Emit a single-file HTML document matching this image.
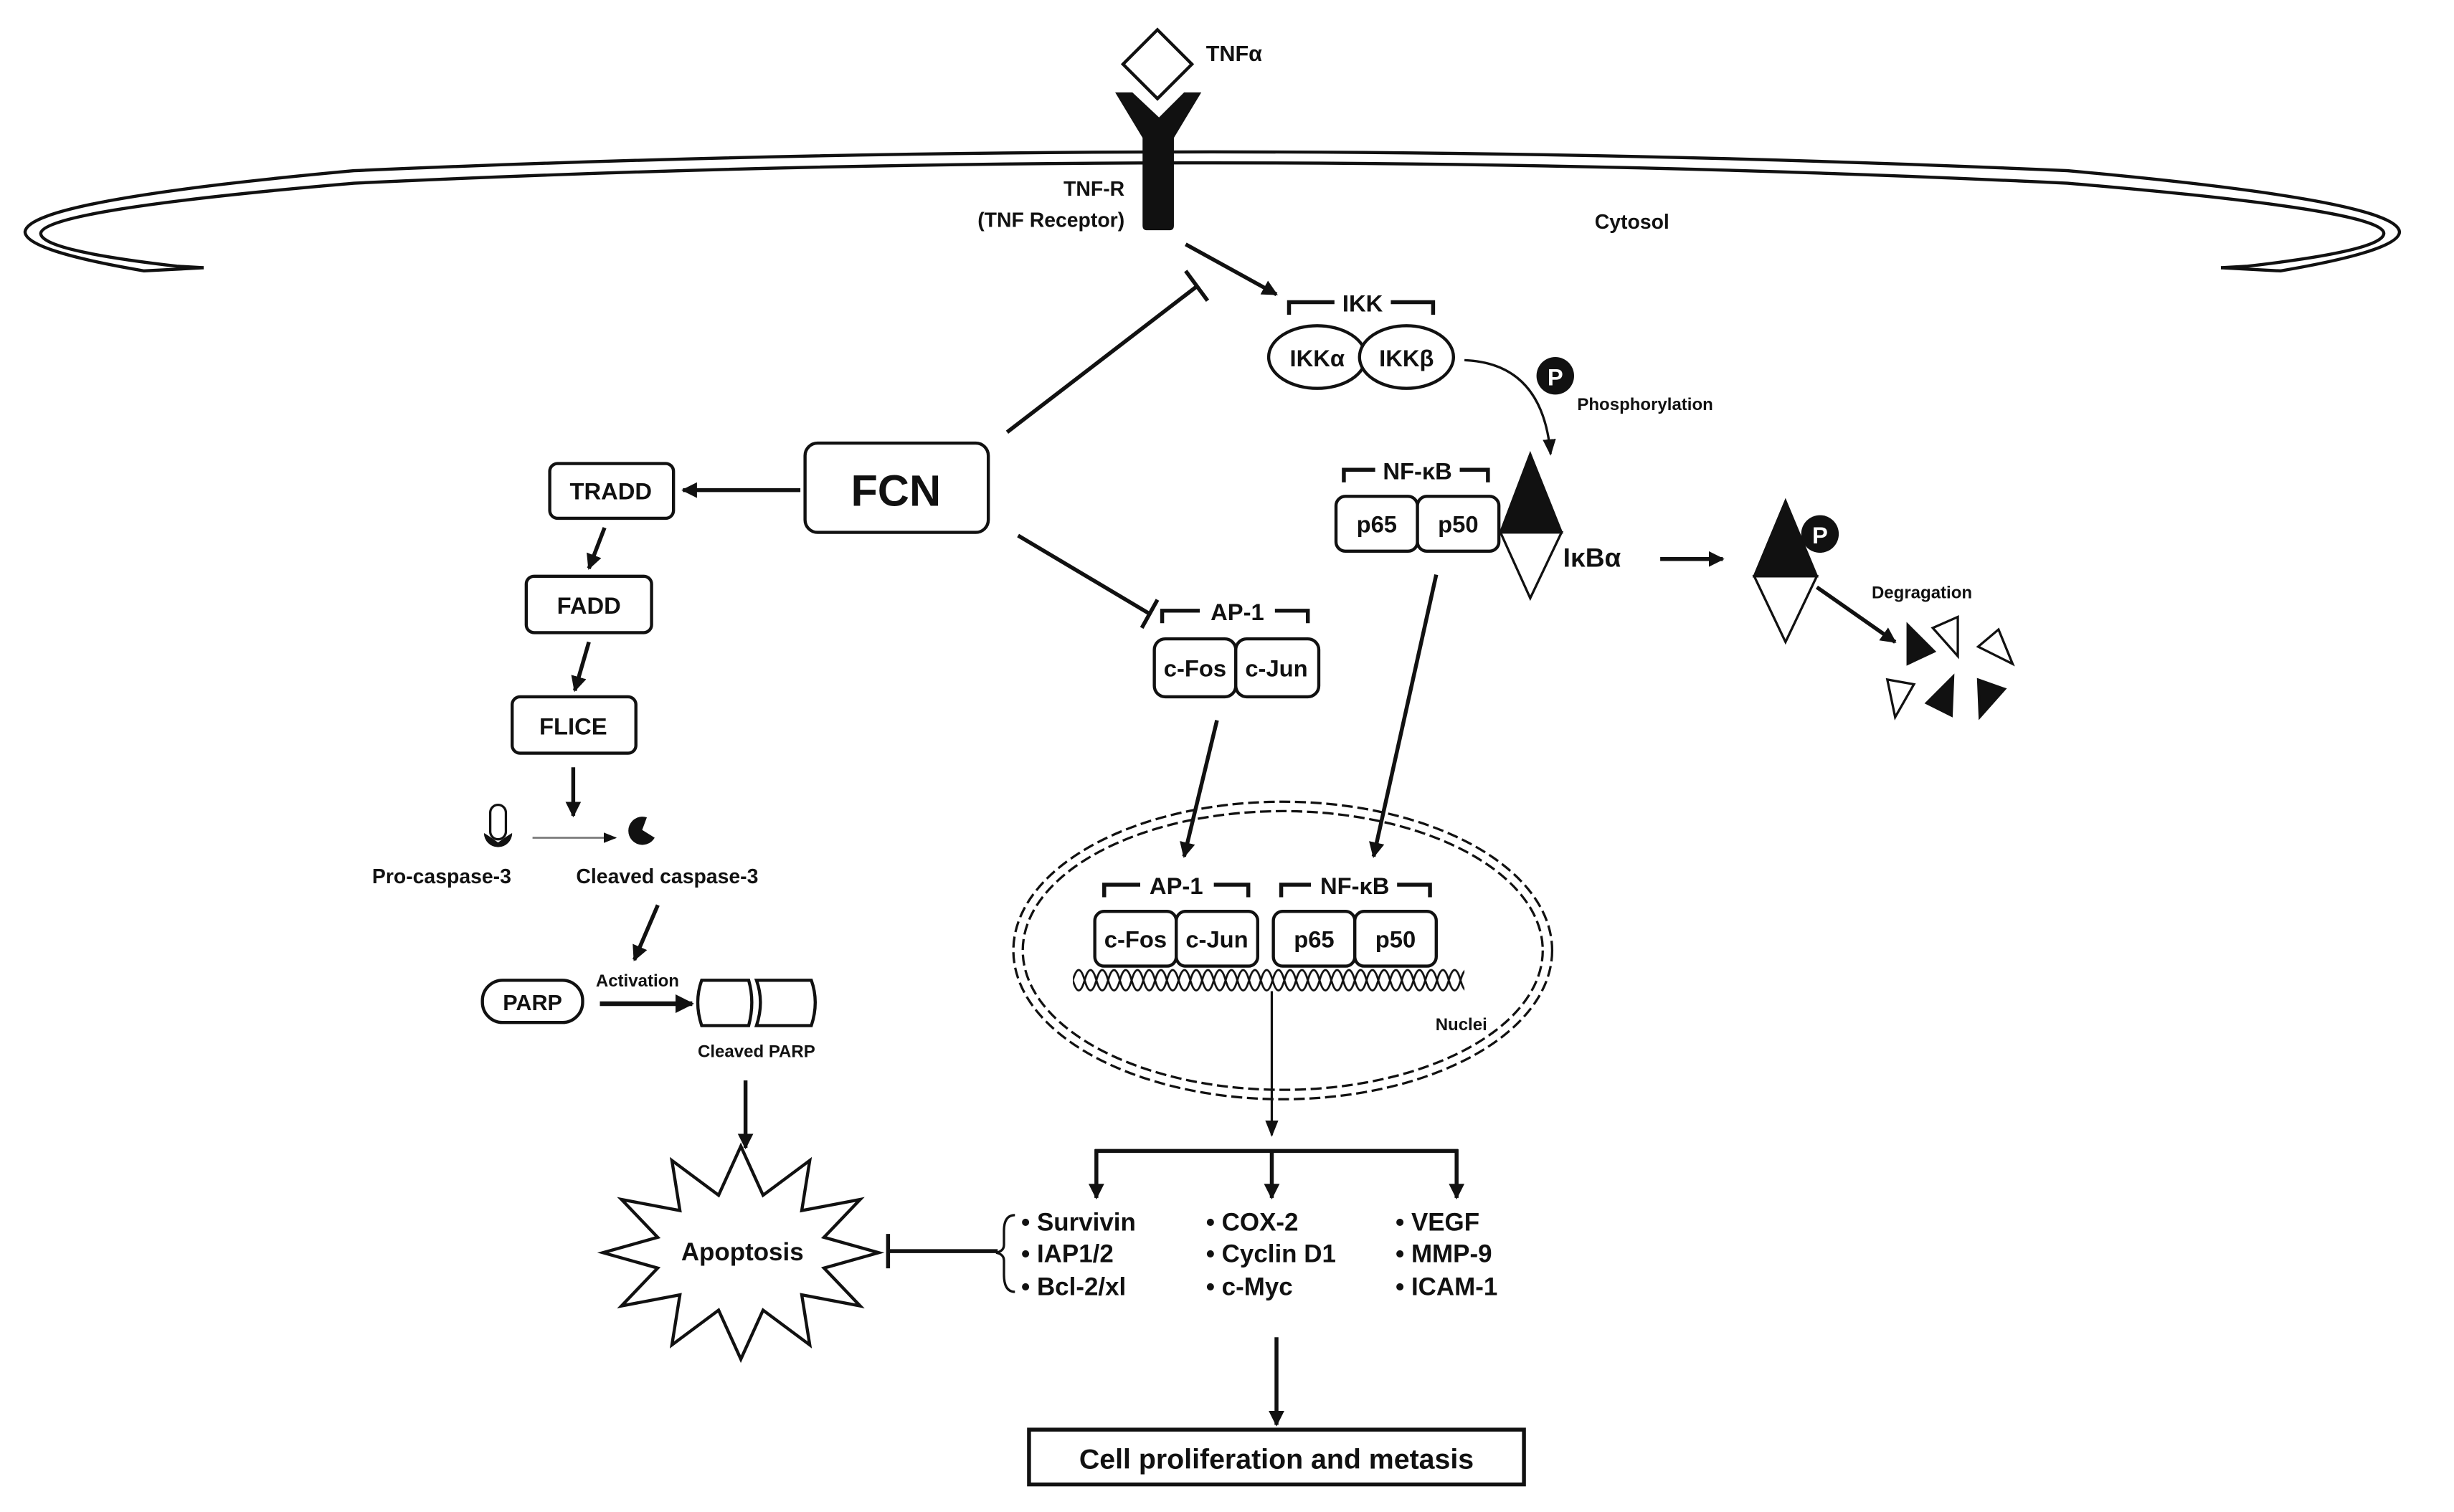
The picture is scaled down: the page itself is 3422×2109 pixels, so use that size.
<!DOCTYPE html>
<html><head><meta charset="utf-8"><style>
html,body{margin:0;padding:0;background:#fff}
svg{display:block}
text{font-family:"Liberation Sans",Arial,sans-serif;font-weight:bold;fill:#111}
</style></head><body>
<svg width="3422" height="2109" viewBox="0 0 1566.8 965.6" preserveAspectRatio="none" xmlns="http://www.w3.org/2000/svg">
<defs>
<marker id="ah" viewBox="0 0 10 10" refX="9" refY="5" markerWidth="4" markerHeight="4" orient="auto"><path d="M0,0 L10,5 L0,10 z" fill="#111"/></marker>
<marker id="ahs" viewBox="0 0 10 10" refX="9" refY="5" markerWidth="7" markerHeight="7" orient="auto"><path d="M0,1 L10,5 L0,9 z" fill="#111"/></marker>
<pattern id="dna" x="685" y="617" width="15" height="18" patternUnits="userSpaceOnUse">
<path d="M0,9 Q3.75,-4 7.5,9 T15,9" fill="none" stroke="#111" stroke-width="1.3"/>
<path d="M0,9 Q3.75,22 7.5,9 T15,9" fill="none" stroke="#111" stroke-width="1.3"/>
</pattern>
</defs>
<g fill="none" stroke="#111" stroke-width="2">
<!-- membrane -->
<path d="M130,171 L92,173 Q16,160 16,148 Q18,128 226,109 Q775,85 1320,109 Q1530,128 1532,148 Q1532,160 1456,173 L1418,171"/>
<path d="M130,171 L113,170 Q26,160 26,149 Q28,134 226,117 Q775,91 1320,117 Q1522,134 1522,149 Q1522,160 1435,170 L1418,171"/>
</g>
<!-- nucleus -->
<g fill="#fff" stroke="#111">
<ellipse cx="819" cy="607" rx="172" ry="95" stroke-dasharray="7,3" stroke-width="1.5"/>
<ellipse cx="819" cy="607" rx="166" ry="89" fill="none" stroke-dasharray="7,3" stroke-width="1.5"/>
</g>
<rect x="685" y="616" width="250" height="18" fill="url(#dna)"/>
<!-- receptor -->
<path d="M712,59 L723,59 L740,75 L756,59 L767,59 L749.5,88 L749.5,144 Q749.5,147 747,147 L732,147 Q729.5,147 729.5,144 L729.5,88 Z" fill="#111"/>
<polygon points="739,19 761,41 739,63 717,41" fill="#fff" stroke="#111" stroke-width="2"/>
<text x="770" y="39" font-size="14">TNFα</text>
<text x="718" y="125" font-size="13" text-anchor="end">TNF-R</text>
<text x="718" y="145" font-size="13" text-anchor="end">(TNF Receptor)</text>
<text x="1042" y="146" font-size="13" text-anchor="middle">Cytosol</text>

<g stroke="#111" stroke-width="2.5" fill="none">
<line x1="757" y1="156" x2="815" y2="188" marker-end="url(#ah)"/>
<line x1="643" y1="276" x2="764" y2="183"/>
<line x1="757" y1="173" x2="771" y2="192"/>
<line x1="650" y1="342" x2="734" y2="392"/>
<line x1="739" y1="383" x2="729" y2="401"/>
<line x1="511" y1="313" x2="436" y2="313" marker-end="url(#ah)"/>
<line x1="386" y1="337" x2="376" y2="363" marker-end="url(#ah)"/>
<line x1="376" y1="410" x2="367" y2="441" marker-end="url(#ah)"/>
<line x1="366" y1="490" x2="366" y2="521" marker-end="url(#ah)"/>
<line x1="420" y1="578" x2="405" y2="613" marker-end="url(#ah)"/>
<line x1="383" y1="641" x2="442" y2="641" stroke-width="3" marker-end="url(#ah)"/>
<line x1="476" y1="690" x2="476" y2="733" marker-end="url(#ah)"/>
<line x1="637" y1="799" x2="567" y2="799"/>
<line x1="567" y1="788" x2="567" y2="810"/>
<line x1="1060" y1="357" x2="1100" y2="357" marker-end="url(#ah)"/>
<line x1="1160" y1="375" x2="1210" y2="410" marker-end="url(#ah)"/>
<line x1="777" y1="460" x2="756" y2="547" marker-end="url(#ah)"/>
<line x1="917" y1="367" x2="877" y2="547" marker-end="url(#ah)"/>
<line x1="812" y1="633" x2="812" y2="725" stroke-width="1.5" marker-end="url(#ahs)"/>
<line x1="699" y1="735" x2="931" y2="735"/>
<line x1="700" y1="734" x2="700" y2="765" marker-end="url(#ah)"/>
<line x1="812" y1="734" x2="812" y2="765" marker-end="url(#ah)"/>
<line x1="930" y1="734" x2="930" y2="765" marker-end="url(#ah)"/>
<line x1="815" y1="854" x2="815" y2="910" marker-end="url(#ah)"/>
<path d="M935,230 Q985,232 990,290" stroke-width="1.5" marker-end="url(#ahs)"/>
<path d="M823,201 V193 H852 M888,193 H915 V201"/>
<path d="M858,308 V300 H878 M932,300 H950 V308"/>
<path d="M742,398 V390 H766 M814,390 H835 V398"/>
<path d="M705,573 V565 H728 M775,565 H797 V573"/>
<path d="M818,573 V565 H837 M892,565 H913 V573"/>
</g>
<line x1="340" y1="535" x2="393" y2="535" stroke="#777" stroke-width="1.2" marker-end="url(#ahs)"/>
<text x="870" y="199" font-size="15" text-anchor="middle">IKK</text>
<text x="905" y="306" font-size="15" text-anchor="middle">NF-κB</text>
<text x="790" y="396" font-size="15" text-anchor="middle">AP-1</text>
<text x="751" y="571" font-size="15" text-anchor="middle">AP-1</text>
<text x="865" y="571" font-size="15" text-anchor="middle">NF-κB</text>

<g fill="#fff" stroke="#111" stroke-width="2">
<ellipse cx="841" cy="228" rx="31" ry="20"/>
<ellipse cx="898" cy="228" rx="30" ry="20"/>
<rect x="853" y="317" width="52" height="35" rx="6"/>
<rect x="905" y="317" width="52" height="35" rx="6"/>
<rect x="514" y="283" width="117" height="57" rx="8"/>
<rect x="351" y="296" width="79" height="35" rx="5"/>
<rect x="336" y="368" width="80" height="36" rx="5"/>
<rect x="327" y="445" width="79" height="36" rx="5"/>
<rect x="737" y="408" width="52" height="37" rx="7"/>
<rect x="789" y="408" width="53" height="37" rx="7"/>
<rect x="699" y="582" width="52" height="35" rx="6"/>
<rect x="751" y="582" width="52" height="35" rx="6"/>
<rect x="813" y="582" width="52" height="35" rx="6"/>
<rect x="865" y="582" width="52" height="35" rx="6"/>
<rect x="308" y="626" width="64" height="27" rx="13"/>
<path d="M448,626 H478 Q482,640 478,655 H448 Q443,640 448,626 Z"/>
<path d="M483,626 H518 Q523,640 518,655 H483 Q488,640 483,626 Z"/>
<rect x="657" y="913" width="316" height="35" stroke-width="2.5"/>
</g>
<text x="841" y="234" font-size="15" text-anchor="middle">IKKα</text>
<text x="898" y="234" font-size="15" text-anchor="middle">IKKβ</text>
<text x="879" y="340" font-size="15" text-anchor="middle">p65</text>
<text x="931" y="340" font-size="15" text-anchor="middle">p50</text>
<text x="572" y="323" font-size="28" text-anchor="middle">FCN</text>
<text x="390" y="319" font-size="15" text-anchor="middle">TRADD</text>
<text x="376" y="392" font-size="15" text-anchor="middle">FADD</text>
<text x="366" y="469" font-size="15" text-anchor="middle">FLICE</text>
<text x="763" y="432" font-size="15" text-anchor="middle">c-Fos</text>
<text x="815" y="432" font-size="15" text-anchor="middle">c-Jun</text>
<text x="725" y="605" font-size="15" text-anchor="middle">c-Fos</text>
<text x="777" y="605" font-size="15" text-anchor="middle">c-Jun</text>
<text x="839" y="605" font-size="15" text-anchor="middle">p65</text>
<text x="891" y="605" font-size="15" text-anchor="middle">p50</text>
<text x="340" y="645" font-size="14" text-anchor="middle">PARP</text>
<text x="407" y="630" font-size="11" text-anchor="middle">Activation</text>
<text x="483" y="675" font-size="11" text-anchor="middle">Cleaved PARP</text>
<text x="282" y="564" font-size="13" text-anchor="middle">Pro-caspase-3</text>
<text x="426" y="564" font-size="13" text-anchor="middle">Cleaved caspase-3</text>
<text x="933" y="658" font-size="11" text-anchor="middle">Nuclei</text>
<text x="815" y="938" font-size="18" text-anchor="middle">Cell proliferation and metasis</text>

<rect x="313" y="514" width="10" height="22" rx="5" fill="#fff" stroke="#111" stroke-width="1.5"/>
<path d="M318,538 Q311,533 309,532 A9,9 0 0 0 327,532 Q325,533 318,538 Z" fill="#111"/>
<path d="M410,530 L418,535 A9,9 0 1 1 413,522 Z" fill="#111"/>

<circle cx="993" cy="240" r="12" fill="#111"/>
<text x="993" y="246" font-size="15" text-anchor="middle" style="fill:#fff">P</text>
<text x="1007" y="262" font-size="11">Phosphorylation</text>
<polygon points="958,340 997,340 977,382" fill="#fff" stroke="#111" stroke-width="1.5"/>
<polygon points="977,290 958,340 997,340" fill="#111" stroke="#111" stroke-width="1.5"/>
<text x="998" y="362" font-size="17">IκBα</text>
<polygon points="1120,368 1160,368 1140,410" fill="#fff" stroke="#111" stroke-width="1.5"/>
<polygon points="1140,320 1120,368 1160,368" fill="#111" stroke="#111" stroke-width="1.5"/>
<circle cx="1162" cy="341" r="12" fill="#111"/>
<text x="1162" y="347" font-size="15" text-anchor="middle" style="fill:#fff">P</text>
<text x="1195" y="382" font-size="11">Degragation</text>
<g stroke="#111" stroke-width="1.5">
<polygon points="1218,399 1235,416 1218,424" fill="#111"/>
<polygon points="1234,401 1250,394 1250,419" fill="#fff"/>
<polygon points="1263,413 1276,402 1285,424" fill="#fff"/>
<polygon points="1205,434 1222,437 1210,458" fill="#fff"/>
<polygon points="1230,449 1247,432 1246,457" fill="#111"/>
<polygon points="1263,434 1280,440 1264,458" fill="#111"/>
</g>

<polygon points="561,800 526.1,809.8 549.2,834 511.9,826.9 517,858.9 487.2,836.7 473,868 458.8,836.7 429,858.9 434.1,826.9 396.8,834 419.9,809.8 385,800 419.9,790.2 396.8,766 434.1,773.1 429,741.1 458.8,763.3 473,732 487.2,763.3 517,741.1 511.9,773.1 549.2,766 526.1,790.2" fill="#fff" stroke="#111" stroke-width="2"/>
<text x="474" y="805" font-size="16" text-anchor="middle">Apoptosis</text>
<path d="M648,776 Q641,776 641,786 L641,795 Q641,799 636,800 Q641,801 641,805 L641,814 Q641,825 648,825" fill="none" stroke="#111" stroke-width="1.5"/>
<g font-size="16">
<text x="652" y="786">• Survivin</text>
<text x="652" y="806">• IAP1/2</text>
<text x="652" y="827">• Bcl-2/xl</text>
<text x="770" y="786">• COX-2</text>
<text x="770" y="806">• Cyclin D1</text>
<text x="770" y="827">• c-Myc</text>
<text x="891" y="786">• VEGF</text>
<text x="891" y="806">• MMP-9</text>
<text x="891" y="827">• ICAM-1</text>
</g>
</svg>
</body></html>
